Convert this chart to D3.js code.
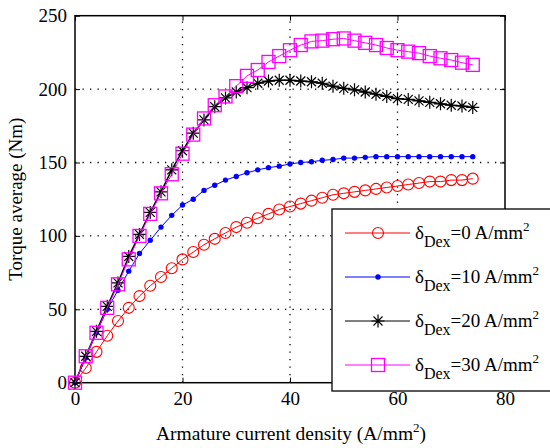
<!DOCTYPE html>
<html><head><meta charset="utf-8">
<script src="https://cdn.jsdelivr.net/npm/d3@7"></script>
<style>
body{margin:0;background:#fff;}
svg, svg text{font-family:"Liberation Serif","Times New Roman",serif;}
</style></head>
<body><div id="chart"></div>
<script>
const xValues = [0,2,4,6,8,10,12,14,16,18,20,22,24,26,28,30,32,34,36,38,40,42,44,46,48,50,52,54,56,58,60,62,64,66,68,70,72,74];
const torque0 = [0,10,21,32,42,51,59,66,72,78,84,89,94,98,102,106,109,112,115,118,120,122,124,126,128,129,130,131,132,133,134,135,136,137,137,138,138,139];
const torque10 = [0,17,34,50,63,76,88,97,106,114,121,125,131,134.5,138,140.5,143,145,146.5,147.5,149,150,150.5,151.5,152,153,153,153.5,154,154,154,154,154,154,154,154,154,154];
const torque20 = [0,18,35,52,68,86,101,116,130,145,158,170,179,188,194,198,201,204,205.5,206,206,205.5,205,204,202,200.5,199.5,198,196.5,195,193.5,193,192,191,190,189,188.5,187.5];
const torque30 = [0,18,34,51,67,84,100,115,129,142,156,169,180,189,195,202,209,213,218.5,222.5,226.5,230,232.5,233,234,234.5,233,231.5,230,228,226.5,225.5,224.5,222.5,221,219.8,218,216.5];
const seriesLabels = ["0","10","20","30"];
const seriesColors = ["#ff0000","#0000ff","#000000","#ff00ff"];
const seriesMarkers = ["circle","dot","star","square"];
const xTicks = [0,20,40,60,80];
const yTicks = [0,50,100,150,200,250];

const FONT = "'Liberation Serif', 'Times New Roman', serif";
const W = 550, H = 448;
const svg = d3.select("#chart").append("svg").attr("width", W).attr("height", H).attr("font-family", FONT);
const x = d3.scaleLinear().domain([0,80]).range([75,505]);
const y = d3.scaleLinear().domain([0,250]).range([382.7,15.7]);

// grid
const grid = svg.append("g").attr("stroke","#000").attr("stroke-width",1.3).attr("stroke-dasharray","1.3,6.2");
[20,40,60].forEach(v=>grid.append("line").attr("x1",x(v)).attr("x2",x(v)).attr("y1",y(0)).attr("y2",y(250)));
[50,100,150,200].forEach(v=>grid.append("line").attr("x1",x(0)).attr("x2",x(80)).attr("y1",y(v)).attr("y2",y(v)));

// axes
const fs = 19;
function styleAxis(g, showLabels){
  g.attr("font-family", FONT);
  g.select(".domain").remove();
  g.selectAll(".tick line").attr("stroke","#000").attr("stroke-width",1);
  g.selectAll(".tick text").attr("font-size",fs).attr("fill","#000").attr("font-family",FONT);
  if(!showLabels) g.selectAll(".tick text").remove();
}
svg.append("g").attr("transform",`translate(0,${y(0)})`)
  .call(d3.axisBottom(x).tickValues(xTicks).tickSize(-5).tickPadding(9).tickFormat(d3.format("d")))
  .call(g=>styleAxis(g,true));
svg.append("g").attr("transform",`translate(0,${y(250)})`)
  .call(d3.axisTop(x).tickValues(xTicks).tickSize(-5))
  .call(g=>styleAxis(g,false));
svg.append("g").attr("transform",`translate(${x(0)},0)`)
  .call(d3.axisLeft(y).tickValues(yTicks).tickSize(-5).tickPadding(8).tickFormat(d3.format("d")))
  .call(g=>styleAxis(g,true));
svg.append("g").attr("transform",`translate(${x(80)},0)`)
  .call(d3.axisRight(y).tickValues(yTicks).tickSize(-5))
  .call(g=>styleAxis(g,false));
svg.append("rect").attr("x",x(0)).attr("y",y(250)).attr("width",x(80)-x(0)).attr("height",y(0)-y(250))
  .attr("fill","none").attr("stroke","#000").attr("stroke-width",1.5);

// marker drawing
function drawMarker(g, type, color, cx, cy){
  if(type==="circle"){
    g.append("circle").attr("cx",cx).attr("cy",cy).attr("r",5.5).attr("fill","none").attr("stroke",color).attr("stroke-width",1.1);
  } else if(type==="dot"){
    g.append("circle").attr("cx",cx).attr("cy",cy).attr("r",2.7).attr("fill",color);
  } else if(type==="star"){
    const s=6.5, d=4.5;
    g.append("path").attr("d",`M${cx-s},${cy}H${cx+s}M${cx},${cy-s}V${cy+s}M${cx-d},${cy-d}L${cx+d},${cy+d}M${cx-d},${cy+d}L${cx+d},${cy-d}`)
      .attr("stroke",color).attr("stroke-width",1.2).attr("fill","none");
  } else if(type==="square"){
    g.append("rect").attr("x",cx-6.5).attr("y",cy-6.5).attr("width",13).attr("height",13).attr("fill","none").attr("stroke",color).attr("stroke-width",1.3);
  }
}

const allSeries = [torque0, torque10, torque20, torque30];
const line = d3.line().x((d,i)=>x(xValues[i])).y(d=>y(d));
allSeries.forEach((vals,k)=>{
  const g = svg.append("g");
  g.append("path").datum(vals).attr("d",line).attr("fill","none").attr("stroke",seriesColors[k]).attr("stroke-width",k===2?1.5:1);
  vals.forEach((v,i)=>drawMarker(g, seriesMarkers[k], seriesColors[k], x(xValues[i]), y(v)));
});

// axis titles
const xt = svg.append("text").attr("x",(x(0)+x(80))/2 + 1).attr("y",440).attr("text-anchor","middle").attr("font-size",19.5).attr("fill","#000").attr("font-family",FONT);
xt.append("tspan").text("Armature current density (A/mm");
xt.append("tspan").attr("dy",-8).attr("font-size",13).text("2");
xt.append("tspan").attr("dy",8).text(")");
svg.append("text").attr("transform",`translate(22,${(y(0)+y(250))/2}) rotate(-90)`).attr("text-anchor","middle")
  .attr("font-size",fs).attr("fill","#000").attr("font-family",FONT).text("Torque average (Nm)");

// legend
const lg = svg.append("g");
lg.append("rect").attr("x",332).attr("y",209).attr("width",240).attr("height",182).attr("fill","#fff").attr("stroke","#000").attr("stroke-width",1.3);
seriesLabels.forEach((lab,k)=>{
  const cy = 233 + k*44;
  lg.append("line").attr("x1",345).attr("x2",410).attr("y1",cy).attr("y2",cy).attr("stroke",seriesColors[k]).attr("stroke-width",1);
  drawMarker(lg, seriesMarkers[k], seriesColors[k], 378, cy);
  const t = lg.append("text").attr("x",415).attr("y",cy+6).attr("font-size",fs).attr("fill","#000").attr("font-family",FONT);
  t.append("tspan").text("δ");
  t.append("tspan").attr("dy",8).attr("font-size",16).text("Dex");
  t.append("tspan").attr("dy",-8).text("=" + lab + " A/mm");
  t.append("tspan").attr("dy",-8).attr("font-size",13).text("2");
});
</script></body></html>
